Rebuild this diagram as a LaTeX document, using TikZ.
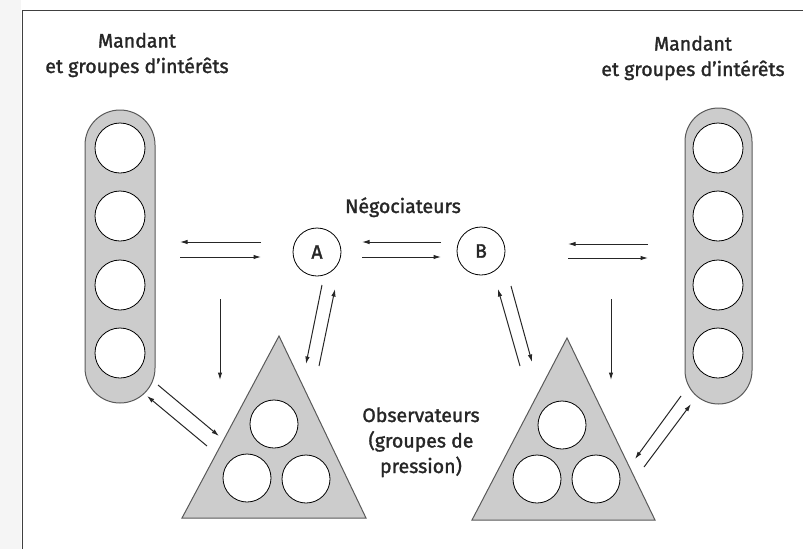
\documentclass[tikz,border=0pt]{standalone}
\usepackage{fontspec}
\setmainfont{Fira Sans}[FakeBold=1.6]
\usetikzlibrary{arrows.meta}
\begin{document}
\begin{tikzpicture}[x=1pt,y=-1pt,
  lbl/.style={font=\fontsize{19.5}{25.5}\selectfont, text=black!85, align=center, inner sep=0pt},
  grp/.style={draw=black!65, fill=black!20, line width=1pt},
  member/.style={circle, draw=black, fill=white, line width=0.8pt, minimum size=50pt, inner sep=0pt},
  small/.style={member, minimum size=48pt},
  nego/.style={circle, draw=black, fill=white, line width=0.8pt, minimum size=48pt, inner sep=0pt,
    font=\fontsize{19.5}{20}\selectfont, text=black!85},
  flow/.style={draw=black!85, line width=1pt, -{Latex[length=7.5pt,width=4.5pt]}},
]
\useasboundingbox (0,0) rectangle (803,549);
% page margin and frame
\fill[black!4] (0,0) rectangle (21,549);
\draw[black!75, line width=1pt] (22,549) -- (22,10) -- (803,10);

% labels (anchored on the baseline of their last line)
\node[lbl, anchor=base] (mandL) at (137,73) {Mandant\\et groupes d'intérêts};
\node[lbl, anchor=base] (mandR) at (693,76) {Mandant\\et groupes d'intérêts};
\node[lbl, anchor=base] (negLbl) at (403,213) {Négociateurs};
\node[lbl, anchor=base] (obsLbl) at (421,473) {Observateurs\\(groupes de\\pression)};

% principals and interest groups (pills)
\node[grp, rounded corners=35pt, minimum width=70pt, minimum height=293pt, inner sep=0pt] (pillL) at (120,256.5) {};
\node[grp, rounded corners=33.5pt, minimum width=67pt, minimum height=296pt, inner sep=0pt] (pillR) at (718.5,256) {};
\foreach \y [count=\i] in {148,216,285,353} {
  \node[member] (l\i) at (120,\y) {};
  \node[member] (r\i) at (718,\y) {};
}

% observers (triangles)
\draw[grp] (279,336) coordinate (triLtop) -- (366,518) -- (182,518) -- cycle;
\draw[grp] (567,338) coordinate (triRtop) -- (655,520) -- (472,520) -- cycle;
\node[small] (o1) at (274,424) {};
\node[small] (o2) at (247,478) {};
\node[small] (o3) at (306,479) {};
\node[small] (p1) at (562,425) {};
\node[small] (p2) at (537,479) {};
\node[small] (p3) at (596,479) {};

% negotiators
\node[nego] (A) at (317,252) {A};
\node[nego] (B) at (481,251) {B};

% arrow end points
\coordinate (lp1) at (261,242); \coordinate (lp2) at (180,242);
\coordinate (lp3) at (180,257); \coordinate (lp4) at (261,257);
\coordinate (ab1) at (441,242); \coordinate (ab2) at (362,242);
\coordinate (ab3) at (362,257); \coordinate (ab4) at (441,257);
\coordinate (rp1) at (648,244); \coordinate (rp2) at (568,244);
\coordinate (rp3) at (568,258); \coordinate (rp4) at (648,258);
\coordinate (ld1) at (220,299); \coordinate (ld2) at (220,380);
\coordinate (rd1) at (611,299); \coordinate (rd2) at (611,380);
\coordinate (at1) at (322,285); \coordinate (at2) at (306,364);
\coordinate (at3) at (319,366); \coordinate (at4) at (335,289);
\coordinate (bt1) at (520,366); \coordinate (bt2) at (498,289);
\coordinate (bt3) at (511,286); \coordinate (bt4) at (532,362);
\coordinate (lt1) at (158,385); \coordinate (lt2) at (219,436);
\coordinate (lt3) at (207,446); \coordinate (lt4) at (147,396);
\coordinate (rt1) at (681,396); \coordinate (rt2) at (635,459);
\coordinate (rt3) at (644,467); \coordinate (rt4) at (691,404);

\foreach \a/\b in {lp1/lp2,lp3/lp4,ab1/ab2,ab3/ab4,rp1/rp2,rp3/rp4,ld1/ld2,rd1/rd2,
                   at1/at2,at3/at4,bt1/bt2,bt3/bt4,lt1/lt2,lt3/lt4,rt1/rt2,rt3/rt4}
  \draw[flow] (\a) -- (\b);
\end{tikzpicture}
\end{document}
